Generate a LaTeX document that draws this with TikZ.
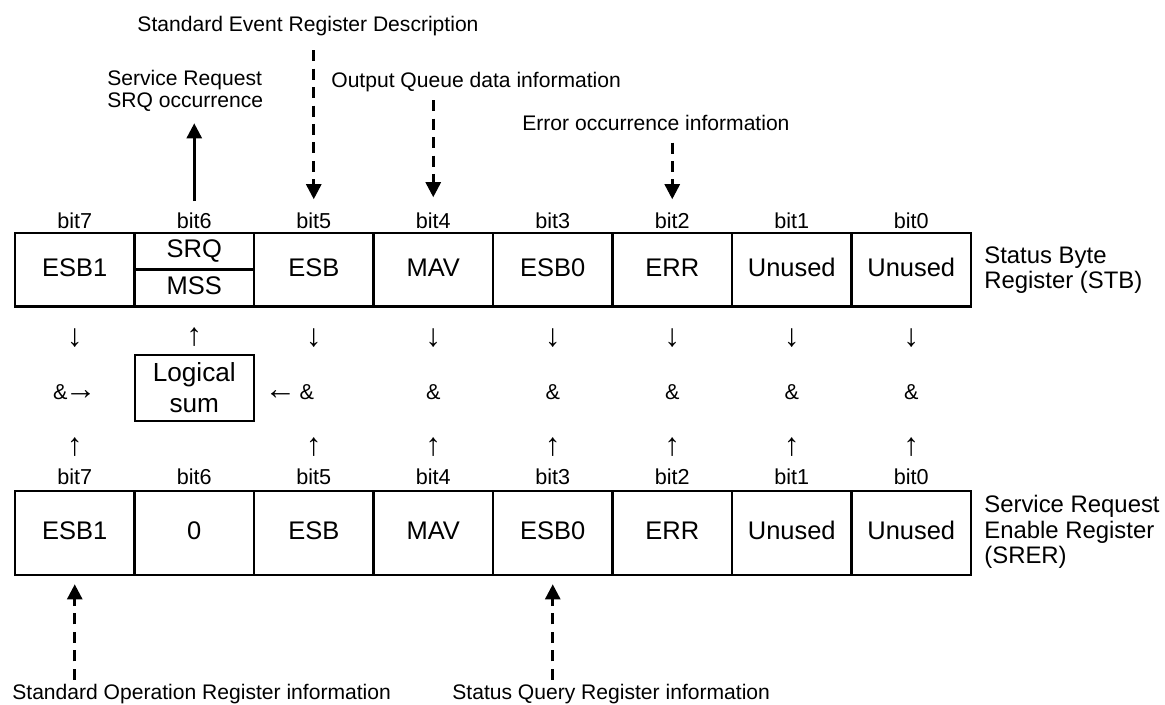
\documentclass[tikz,border=0pt]{standalone}
\usepackage{fontspec}
\setmainfont{Liberation Sans}
\usetikzlibrary{arrows.meta}
\newcommand{\bigarr}[1]{\raisebox{0pt}{\fontsize{18}{18}\selectfont #1}}

\begin{document}
\begin{tikzpicture}[x=0.02cm,y=-0.02cm,>={Triangle[length=3mm,width=3mm]},
        celltext/.style={inner sep=0pt,text height=0.72em,text depth=0pt,font=\fontsize{14.5}{18}\selectfont},
        cell/.style={celltext,draw,line width=1.5pt,minimum width=2.39cm},
        bitno/.style={inner sep=0pt,font=\fontsize{12.3}{14}\selectfont},
        tick/.style={inner sep=0pt,font=\fontsize{18}{18}\selectfont},
        note/.style={inner sep=0pt,align=left,font=\fontsize{12}{12.9}\selectfont},
        side/.style={inner sep=0pt,align=left,anchor=west,font=\fontsize{13.6}{14.6}\selectfont},
        info/.style={line width=1.5pt,dash pattern=on 6.3pt off 4.2pt}]
    \useasboundingbox (0,0) rectangle (1165,704);
    % registers
    \foreach \b/\t [count=\i from 0] in {7/ESB1,6/,5/ESB,4/MAV,3/ESB0,2/ERR,1/Unused,0/Unused}{
        \node[cell,minimum height=1.47cm] (stb\b) at ({74.75+119.5*\i},269.75) {\t};
        \node[bitno] (sb\b) at ({74.75+119.5*\i},220.5) {bit\b};
        \node[bitno] (rb\b) at ({74.75+119.5*\i},477) {bit\b};
    }
    \foreach \b/\t [count=\i from 0] in {7/ESB1,6/0,5/ESB,4/MAV,3/ESB0,2/ERR,1/Unused,0/Unused}
        \node[cell,minimum height=1.68cm] (srer\b) at ({74.75+119.5*\i},533) {\t};
    \draw[line width=1.5pt] (stb6.west) -- (stb6.east);
    \node[celltext] (srq) at (194.25,251) {SRQ};
    \node[celltext] (mss) at (194.25,288) {MSS};
    \node[side] (stbname) at (984,270) {Status Byte\\Register (STB)};
    \node[side] (srername) at (984,532) {Service Request\\Enable Register\\(SRER)};
    % and gates
    \foreach \b/\x in {7/74.75,5/313.75,4/433.25,3/552.75,2/672.25,1/791.75,0/911.25}{
        \node[tick] (dn\b) at (\x,338) {↓};
        \node[tick] (up\b) at (\x,447) {↑};
    }
    \foreach \b/\x in {4/433.25,3/552.75,2/672.25,1/791.75,0/911.25}
        \node[bitno] (and\b) at (\x,392) {\&};
    \node[bitno] (and7) at (74.75,392) {\&\kern-1.5pt\bigarr{→}};
    \node[bitno,anchor=east] (and5) at (314.5,392) {\bigarr{←}\,\&};
    \node[tick] (up6) at (194.25,337) {↑};
    \node[draw,line width=1.2pt,minimum width=2.38cm,minimum height=1.32cm,align=center,
        inner sep=0pt,font=\fontsize{14.9}{18}\selectfont] (lsum) at (194.25,387.7) {Logical\\sum};
    % notes
    \node[note] (sedesc) at (308,26) {Standard Event Register Description};
    \node[note,anchor=west] (srqnote) at (107,91) {Service Request\\SRQ occurrence};
    \node[note,anchor=west] (oqnote) at (331,82) {Output Queue data information};
    \node[note,anchor=west] (errnote) at (522,123) {Error occurrence information};
    \node[note,anchor=west] (opnote) at (12,694) {Standard Operation Register information};
    \node[note,anchor=west] (sqnote) at (452,694) {Status Query Register information};
    \draw[->,line width=1.5pt,shorten <=0.22cm,shorten >=0.22cm] (sb6.north) -- (srqnote.south -| sb6);
    \draw[->,info,shorten <=0.28cm,shorten >=0.26cm] (sedesc.south -| sb5) -- (sb5.north);
    \draw[->,info,shorten <=0.16cm,shorten >=0.3cm] (oqnote.south -| sb4) -- (sb4.north);
    \draw[->,info,shorten <=0.23cm,shorten >=0.26cm] (errnote.south -| sb2) -- (sb2.north);
    \draw[->,info,shorten <=0.08cm,shorten >=0.16cm] (opnote.north -| srer7) -- (srer7.south);
    \draw[->,info,shorten <=0.08cm,shorten >=0.16cm] (sqnote.north -| srer3) -- (srer3.south);
\end{tikzpicture}
\end{document}
